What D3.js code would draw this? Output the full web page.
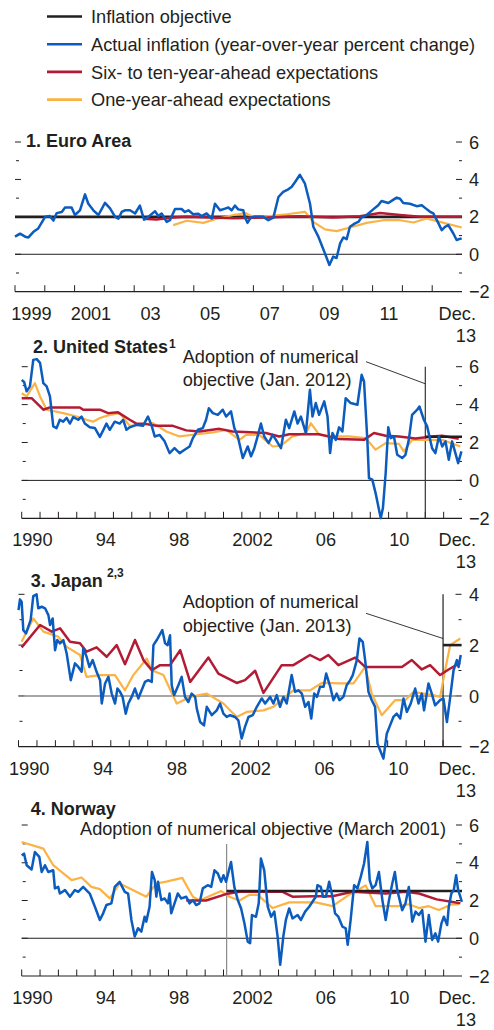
<!DOCTYPE html>
<html>
<head>
<meta charset="utf-8">
<script src="https://cdn.jsdelivr.net/npm/d3@7"></script>
<style>
  body { margin: 0; background: #fff; }
  svg { display: block; font-family: "Liberation Sans", Arial, sans-serif; }
  text { fill: #231f20; }
</style>
</head>
<body>
<svg width="494" height="1030"></svg>
<script>
// ---- data: [year, percent] ----
const legendLabels = [
  "Inflation objective",
  "Actual inflation (year-over-year percent change)",
  "Six- to ten-year-ahead expectations",
  "One-year-ahead expectations"
];

const euroObjective = [[1999, 2], [2014, 2]];
const euroActual = [[1999.00,0.94],[1999.17,1.10],[1999.34,0.94],[1999.45,0.90],[1999.62,1.20],[1999.78,1.38],[2000.01,2.00],[2000.17,2.04],[2000.29,1.80],[2000.40,2.20],[2000.57,2.26],[2000.68,2.50],[2000.90,2.50],[2001.01,2.10],[2001.18,2.35],[2001.35,3.20],[2001.46,2.70],[2001.63,2.35],[2001.80,2.10],[2002.02,2.75],[2002.19,2.45],[2002.36,2.00],[2002.47,1.90],[2002.58,2.26],[2002.69,2.35],[2002.86,2.35],[2003.03,2.18],[2003.19,2.60],[2003.33,1.85],[2003.47,2.00],[2003.70,2.30],[2003.81,2.05],[2003.92,2.18],[2004.09,1.73],[2004.20,1.82],[2004.37,2.42],[2004.59,2.42],[2004.70,2.26],[2004.82,2.35],[2004.98,2.14],[2005.15,2.17],[2005.26,2.04],[2005.43,2.18],[2005.60,1.90],[2005.71,2.70],[2005.88,2.35],[2006.05,2.44],[2006.16,2.50],[2006.27,2.35],[2006.38,2.60],[2006.49,2.40],[2006.66,2.35],[2006.72,1.96],[2006.80,1.68],[2006.91,1.96],[2007.05,2.00],[2007.33,2.00],[2007.50,1.82],[2007.67,1.96],[2007.84,3.06],[2008.00,3.33],[2008.17,3.47],[2008.28,3.60],[2008.40,3.86],[2008.56,4.25],[2008.73,3.77],[2008.90,2.70],[2009.01,1.47],[2009.18,0.94],[2009.29,0.50],[2009.40,0.05],[2009.55,-0.57],[2009.68,-0.12],[2009.79,-0.20],[2009.91,0.58],[2010.02,0.90],[2010.13,0.81],[2010.24,1.47],[2010.41,1.65],[2010.52,1.73],[2010.63,1.96],[2010.80,2.10],[2011.02,2.40],[2011.19,2.62],[2011.30,2.85],[2011.53,2.74],[2011.70,2.92],[2011.81,3.03],[2011.92,2.97],[2012.03,2.74],[2012.25,2.70],[2012.48,2.57],[2012.65,2.62],[2012.76,2.48],[2012.93,2.27],[2013.04,2.18],[2013.21,1.65],[2013.32,1.29],[2013.43,1.47],[2013.54,1.56],[2013.71,1.11],[2013.82,0.76],[2013.88,0.80],[2013.99,0.85]];
const euroLongTerm = [[2003.31,1.90],[2003.75,1.86],[2004.31,1.96],[2004.76,2.00],[2006.33,1.93],[2007.45,1.96],[2008.56,2.03],[2009.68,1.96],[2010.58,2.03],[2011.25,2.20],[2011.92,2.10],[2012.59,2.00],[2013.99,2.00]];
const euroOneYear = [[2004.31,1.56],[2004.76,1.79],[2005.32,1.68],[2005.77,1.90],[2006.33,2.10],[2006.72,2.20],[2007.05,1.96],[2007.45,2.03],[2008.12,2.14],[2008.73,2.27],[2009.01,1.73],[2009.40,1.33],[2009.79,1.24],[2010.24,1.43],[2010.80,1.68],[2011.36,1.82],[2011.92,1.82],[2012.37,1.70],[2012.81,1.91],[2013.26,1.73],[2013.99,1.43]];

const usObjective = [[2012, 2.3], [2014, 2.3]];
const usActual = [[1990.00,5.30],[1990.13,5.20],[1990.27,4.70],[1990.45,4.96],[1990.63,6.36],[1990.82,6.40],[1991.00,6.20],[1991.18,5.13],[1991.36,4.96],[1991.54,4.43],[1991.72,2.85],[1991.90,2.76],[1992.08,3.20],[1992.26,3.10],[1992.45,3.30],[1992.63,3.00],[1992.81,3.34],[1993.08,3.20],[1993.26,3.37],[1993.44,3.00],[1993.71,2.80],[1993.99,2.76],[1994.26,2.30],[1994.44,2.64],[1994.62,3.00],[1994.80,2.67],[1995.07,3.10],[1995.34,3.00],[1995.53,3.20],[1995.71,2.67],[1995.89,2.80],[1996.25,2.93],[1996.61,2.88],[1996.88,3.37],[1997.07,2.93],[1997.25,2.32],[1997.52,2.40],[1997.79,2.06],[1998.06,1.44],[1998.33,1.70],[1998.61,1.44],[1998.88,1.62],[1999.15,1.79],[1999.33,2.23],[1999.60,2.67],[1999.87,2.76],[2000.05,3.20],[2000.20,3.81],[2000.42,3.55],[2000.69,3.46],[2000.96,3.73],[2001.14,3.37],[2001.41,3.64],[2001.59,2.76],[2001.78,2.32],[2002.05,1.18],[2002.32,1.79],[2002.50,1.27],[2002.68,1.70],[2002.86,2.32],[2003.04,3.00],[2003.22,2.32],[2003.46,1.97],[2003.68,2.40],[2003.86,2.14],[2004.13,1.70],[2004.40,3.20],[2004.58,2.76],[2004.86,3.64],[2005.04,3.00],[2005.22,3.37],[2005.49,2.50],[2005.71,4.78],[2005.85,3.37],[2006.03,4.08],[2006.21,3.46],[2006.49,4.17],[2006.67,3.37],[2006.81,1.44],[2006.94,2.50],[2007.12,2.14],[2007.30,2.80],[2007.48,2.58],[2007.66,4.34],[2007.93,4.08],[2008.30,3.99],[2008.53,5.57],[2008.66,5.22],[2008.84,2.14],[2008.93,0.12],[2009.11,0.04],[2009.29,-0.67],[2009.57,-1.99],[2009.69,-1.46],[2009.84,0.39],[2009.98,2.80],[2010.11,2.23],[2010.29,2.32],[2010.47,1.35],[2010.74,1.18],[2010.92,1.35],[2011.10,2.14],[2011.28,3.46],[2011.56,3.73],[2011.68,3.90],[2011.92,3.20],[2012.10,2.85],[2012.37,1.70],[2012.55,1.44],[2012.74,2.32],[2012.92,1.79],[2013.10,2.06],[2013.28,1.09],[2013.46,2.06],[2013.64,1.44],[2013.79,0.91],[2013.97,1.53]];
const usLongTerm = [[1990.00,4.34],[1990.54,4.34],[1991.18,3.73],[1991.54,3.85],[1993.17,3.85],[1993.35,3.73],[1994.26,3.73],[1994.71,3.55],[1995.25,3.59],[1995.89,3.20],[1996.25,3.00],[1996.79,2.97],[1997.34,2.88],[1998.24,2.88],[1998.97,2.64],[1999.69,2.58],[2000.78,2.72],[2001.50,2.58],[2003.31,2.50],[2004.04,2.32],[2004.58,2.44],[2006.21,2.44],[2006.94,2.27],[2007.30,2.18],[2008.66,2.14],[2009.20,2.50],[2009.84,2.36],[2010.56,2.32],[2011.47,2.21],[2012.37,2.32],[2012.92,2.36],[2013.82,2.20]];
const usOneYear = [[1990.00,4.60],[1990.27,4.43],[1990.72,5.13],[1991.00,4.43],[1991.36,3.73],[1992.26,3.55],[1992.99,3.37],[1993.53,3.20],[1993.89,3.10],[1994.26,3.29],[1994.80,3.46],[1995.34,3.55],[1995.89,2.88],[1996.43,2.93],[1997.16,3.02],[1997.88,2.58],[1998.61,2.32],[1999.33,2.41],[2000.42,2.53],[2001.14,2.67],[2001.87,2.14],[2002.23,2.40],[2002.95,2.40],[2003.68,1.79],[2004.13,1.83],[2004.76,2.32],[2005.49,2.50],[2005.76,3.02],[2006.21,2.41],[2006.94,2.32],[2007.84,2.32],[2008.75,2.23],[2009.29,1.62],[2009.84,1.97],[2010.56,1.93],[2010.83,1.53],[2011.28,2.14],[2012.19,2.14],[2012.92,2.14],[2013.91,1.79]];

const japanObjective = [[2013, 2], [2014, 2]];
const japanActual = [[1990.00,3.38],[1990.08,3.80],[1990.17,3.71],[1990.26,2.59],[1990.41,2.46],[1990.53,2.72],[1990.66,2.99],[1990.80,3.93],[1990.98,4.00],[1991.07,3.45],[1991.26,3.51],[1991.44,3.45],[1991.62,3.18],[1991.71,2.79],[1991.85,3.05],[1991.98,1.80],[1992.10,2.20],[1992.25,2.07],[1992.43,2.20],[1992.61,1.67],[1992.83,0.62],[1993.06,1.28],[1993.24,1.14],[1993.42,0.95],[1993.51,1.87],[1993.69,1.54],[1993.84,1.14],[1994.02,1.41],[1994.23,0.95],[1994.42,0.62],[1994.51,-0.30],[1994.69,0.49],[1994.87,0.75],[1995.05,0.09],[1995.23,-0.30],[1995.36,0.29],[1995.50,0.16],[1995.64,-0.04],[1995.81,-0.70],[1995.95,-0.30],[1996.13,-0.04],[1996.31,0.29],[1996.49,-0.10],[1996.67,0.22],[1996.85,0.55],[1997.03,0.62],[1997.22,0.55],[1997.31,2.00],[1997.49,2.20],[1997.67,2.43],[1997.79,2.59],[1997.94,2.07],[1998.08,2.00],[1998.21,2.39],[1998.30,0.42],[1998.43,0.03],[1998.66,0.42],[1998.84,0.75],[1999.02,-0.04],[1999.20,-0.24],[1999.38,0.09],[1999.57,-0.04],[1999.66,-0.50],[1999.84,-1.03],[2000.05,-1.16],[2000.20,-0.43],[2000.47,-0.76],[2000.74,-0.57],[2000.92,-0.30],[2001.10,-0.70],[2001.28,-0.83],[2001.46,-0.76],[2001.73,-0.83],[2001.91,-0.96],[2002.09,-1.68],[2002.27,-1.22],[2002.46,-0.83],[2002.69,-0.76],[2002.91,-0.43],[2003.18,-0.10],[2003.36,-0.30],[2003.63,-0.04],[2003.81,-0.30],[2003.99,0.03],[2004.17,-0.43],[2004.35,-0.04],[2004.53,-0.30],[2004.80,0.82],[2004.98,0.16],[2005.17,0.22],[2005.35,0.09],[2005.53,-0.43],[2005.71,-0.24],[2005.86,-0.89],[2006.02,0.09],[2006.17,-0.04],[2006.34,0.36],[2006.53,0.36],[2006.67,0.88],[2006.89,0.36],[2007.06,-0.17],[2007.24,0.09],[2007.39,-0.17],[2007.60,-0.04],[2007.78,0.42],[2007.97,0.62],[2008.11,0.82],[2008.33,1.41],[2008.47,2.26],[2008.65,2.13],[2008.78,1.41],[2008.96,0.16],[2009.14,-0.17],[2009.32,-0.43],[2009.45,-1.88],[2009.59,-2.14],[2009.77,-2.47],[2009.95,-1.49],[2010.13,-1.16],[2010.31,-0.83],[2010.49,-0.70],[2010.68,-0.89],[2010.86,-0.10],[2011.04,-0.63],[2011.25,-0.30],[2011.49,0.29],[2011.67,-0.30],[2011.85,0.09],[2011.97,-0.57],[2012.21,0.49],[2012.39,0.09],[2012.57,-0.37],[2012.84,-0.17],[2013.02,-0.10],[2013.21,-1.03],[2013.39,-0.04],[2013.57,1.01],[2013.75,1.41],[2013.84,1.14],[2013.96,1.61]];
const japanLongTerm = [[1990.17,1.91],[1991.17,2.79],[1991.80,2.53],[1992.25,2.66],[1992.79,2.13],[1993.33,2.07],[1993.69,1.74],[1994.23,1.91],[1994.78,1.54],[1995.32,2.00],[1995.77,1.25],[1996.31,2.20],[1996.77,1.41],[1997.22,1.01],[1997.67,1.21],[1998.21,1.21],[1998.76,1.80],[1999.30,0.55],[2000.29,1.51],[2000.83,0.88],[2001.82,0.51],[2002.27,0.62],[2002.82,0.99],[2003.27,0.12],[2004.26,1.21],[2004.89,1.21],[2005.79,1.61],[2006.34,1.41],[2006.79,1.61],[2007.33,1.21],[2008.24,1.51],[2008.78,1.14],[2010.77,1.14],[2011.31,1.41],[2011.85,1.04],[2012.30,1.21],[2012.84,0.82],[2013.30,1.04],[2013.93,1.30]];
const japanOneYear = [[1990.17,2.13],[1990.80,3.05],[1991.35,2.53],[1992.16,2.33],[1992.61,1.93],[1993.33,1.61],[1993.69,0.75],[1994.42,0.82],[1995.23,0.82],[1995.77,0.22],[1996.22,0.82],[1996.95,1.47],[1997.22,1.01],[1997.85,0.82],[1998.57,-0.30],[1999.30,-0.04],[2000.20,0.09],[2001.10,-0.30],[2001.82,-0.83],[2002.36,-0.63],[2003.27,-0.57],[2003.81,-0.43],[2004.89,0.22],[2005.79,0.22],[2006.43,0.51],[2007.42,0.49],[2008.15,0.49],[2008.78,1.14],[2009.14,0.09],[2009.68,-0.76],[2010.40,-0.17],[2010.95,-0.17],[2011.40,0.16],[2011.94,0.09],[2012.48,0.03],[2012.84,-0.04],[2013.11,1.01],[2013.39,2.00],[2013.93,2.26]];

const norwayObjective = [[2001.17, 2.5], [2014, 2.5]];
const norwayActual = [[1990.00,4.39],[1990.13,4.48],[1990.27,3.87],[1990.54,3.64],[1990.72,4.57],[1990.96,4.31],[1991.09,3.51],[1991.27,3.87],[1991.45,3.51],[1991.72,3.60],[1991.81,2.64],[1991.99,2.72],[1992.08,2.37],[1992.36,2.55],[1992.63,2.20],[1992.90,2.55],[1993.08,2.46],[1993.35,2.72],[1993.71,2.37],[1993.99,1.67],[1994.26,0.97],[1994.44,1.32],[1994.62,1.76],[1994.89,1.85],[1995.07,2.72],[1995.34,2.99],[1995.62,2.46],[1995.80,2.37],[1995.98,0.97],[1996.16,0.09],[1996.34,0.53],[1996.52,0.35],[1996.70,1.14],[1996.79,0.88],[1996.97,1.67],[1997.10,3.51],[1997.25,3.08],[1997.34,2.20],[1997.43,2.99],[1997.61,2.02],[1997.79,2.11],[1997.97,1.85],[1998.06,2.37],[1998.15,1.32],[1998.33,1.85],[1998.51,2.37],[1998.70,2.11],[1998.97,2.20],[1999.15,1.85],[1999.33,2.02],[1999.51,1.76],[1999.69,1.85],[1999.87,2.64],[2000.14,2.81],[2000.33,2.72],[2000.51,3.60],[2000.69,3.43],[2000.87,2.99],[2001.00,3.34],[2001.14,2.99],[2001.41,4.04],[2001.59,2.72],[2001.78,2.02],[2001.96,1.58],[2002.14,0.79],[2002.32,-0.18],[2002.45,-0.26],[2002.55,1.23],[2002.77,1.14],[2002.92,1.85],[2003.04,4.22],[2003.22,3.60],[2003.41,1.67],[2003.59,1.14],[2003.77,1.41],[2003.95,0.09],[2004.09,-1.41],[2004.26,0.09],[2004.40,0.97],[2004.58,1.58],[2004.76,1.05],[2005.04,1.23],[2005.22,0.97],[2005.45,1.41],[2005.67,1.67],[2005.85,1.93],[2006.03,2.20],[2006.12,2.81],[2006.30,2.72],[2006.43,2.20],[2006.58,2.20],[2006.76,2.99],[2006.94,2.20],[2007.08,1.32],[2007.26,1.14],[2007.48,0.62],[2007.66,0.53],[2007.77,-0.35],[2007.93,0.97],[2008.12,2.81],[2008.30,2.64],[2008.48,3.25],[2008.66,3.95],[2008.84,5.10],[2008.97,3.08],[2009.11,2.64],[2009.29,2.81],[2009.47,3.51],[2009.66,2.02],[2009.84,0.97],[2010.02,2.02],[2010.20,2.90],[2010.34,3.51],[2010.47,2.55],[2010.74,1.49],[2010.92,1.85],[2011.10,2.72],[2011.29,0.88],[2011.47,1.41],[2011.65,1.23],[2011.83,1.49],[2012.01,-0.18],[2012.19,1.23],[2012.37,-0.09],[2012.55,0.26],[2012.70,-0.18],[2012.88,0.79],[2013.01,1.14],[2013.19,0.70],[2013.28,1.67],[2013.42,2.37],[2013.55,2.55],[2013.68,3.34],[2013.79,2.55],[2013.91,2.20],[2013.99,1.93]];
const norwayLongTerm = [[1998.97,2.00],[2000.05,2.00],[2001.14,2.34],[2001.87,2.46],[2004.22,2.46],[2004.76,2.20],[2005.85,2.23],[2006.94,2.23],[2008.03,2.46],[2009.84,2.37],[2010.92,2.46],[2011.65,2.37],[2012.62,2.06],[2013.91,1.85]];
const norwayOneYear = [[1990.00,5.10],[1991.18,4.75],[1991.72,3.87],[1992.72,3.08],[1993.26,3.22],[1993.80,2.72],[1994.26,2.60],[1994.80,2.11],[1995.34,2.90],[1996.79,2.20],[1997.34,2.90],[1997.88,3.00],[1998.75,3.20],[1999.33,2.20],[1999.69,2.00],[2000.87,2.50],[2001.32,2.20],[2001.87,2.00],[2002.41,2.30],[2002.86,2.30],[2003.68,1.60],[2004.58,1.90],[2006.03,1.90],[2006.94,1.70],[2007.84,2.30],[2008.39,2.60],[2008.75,2.80],[2009.29,1.70],[2010.56,1.70],[2011.10,1.80],[2011.65,1.60],[2012.19,1.70],[2012.74,1.50],[2013.46,1.80],[2013.82,1.80]];

// ---- layout ----
const svg = d3.select("svg");
const colors = ["#231f20", "#0b5cbe", "#b31b35", "#fbb345"];
const fs = 18.2;

const legend = svg.append("g");
legendLabels.forEach((label, i) => {
  const ly = 16.5 + i * 27.7;
  legend.append("line")
    .attr("x1", 47).attr("x2", 82).attr("y1", ly).attr("y2", ly)
    .attr("stroke", colors[i]).attr("stroke-width", 2.6);
  legend.append("text")
    .attr("x", 91).attr("y", ly + 6.6)
    .attr("font-size", fs)
    .text(label);
});

const panels = [
  {
    title: "1. Euro Area", sup: "", titleX: 26, titleY: 147,
    x0: 15, x1: 462, xStart: 1999, top: 142, bottom: 291.7, yMin: -2, yMax: 6,
    yearLabels: [[1999, "1999"], [2001, "2001"], [2003, "03"], [2005, "05"], [2007, "07"], [2009, "09"], [2011, "11"]],
    objective: euroObjective, actual: euroActual, longTerm: euroLongTerm, oneYear: euroOneYear,
    redOverBlack: true, zeroColor: "#231f20"
  },
  {
    title: "2. United States", sup: "1", titleX: 33, titleY: 353, supX: 169, supY: 348,
    x0: 21.7, x1: 462, xStart: 1990, top: 366.7, bottom: 518.3, yMin: -2, yMax: 6,
    yearLabels: [[1990, "1990"], [1994, "94"], [1998, "98"], [2002, "2002"], [2006, "06"], [2010, "10"]],
    objective: usObjective, actual: usActual, longTerm: usLongTerm, oneYear: usOneYear,
    zeroColor: "#231f20",
    note: { lines: ["Adoption of numerical", "objective (Jan. 2012)"], x: 182.7, y: 363, date: 2012,
            vTop: 6, px: 366, py: 361.7, pv: 5.1, color: "#333" }
  },
  {
    title: "3. Japan", sup: "2,3", titleX: 30.7, titleY: 587, supX: 107, supY: 577,
    x0: 18.5, x1: 461.5, xStart: 1990, top: 594.3, bottom: 746.7, yMin: -2, yMax: 4,
    yearLabels: [[1990, "1990"], [1994, "94"], [1998, "98"], [2002, "2002"], [2006, "06"], [2010, "10"]],
    objective: japanObjective, actual: japanActual, longTerm: japanLongTerm, oneYear: japanOneYear,
    zeroColor: "#8a8a8a",
    note: { lines: ["Adoption of numerical", "objective (Jan. 2013)"], x: 182.7, y: 608.3, date: 2013,
            vTop: 4, px: 366, py: 613.3, pv: 2.26, color: "#231f20" }
  },
  {
    title: "4. Norway", sup: "", titleX: 30.7, titleY: 815,
    x0: 21.7, x1: 462, xStart: 1990, top: 825, bottom: 976, yMin: -2, yMax: 6,
    yearLabels: [[1990, "1990"], [1994, "94"], [1998, "98"], [2002, "2002"], [2006, "06"], [2010, "10"]],
    objective: norwayObjective, actual: norwayActual, longTerm: norwayLongTerm, oneYear: norwayOneYear,
    zeroColor: "#231f20",
    note: { lines: ["Adoption of numerical objective (March 2001)"], x: 80, y: 835, date: 2001.17,
            vTop: 5, color: "#8a8a8a" }
  }
];

panels.forEach(p => {
  const g = svg.append("g");
  const x = d3.scaleLinear().domain([p.xStart, 2014]).range([p.x0, p.x1]);
  const y = d3.scaleLinear().domain([p.yMin, p.yMax]).range([p.bottom, p.top]);
  const line = d3.line().x(d => x(d[0])).y(d => y(d[1]));

  // title
  g.append("text").attr("x", p.titleX).attr("y", p.titleY)
    .attr("font-size", 18).attr("font-weight", "bold").text(p.title);
  if (p.sup) {
    g.append("text").attr("x", p.supX).attr("y", p.supY)
      .attr("font-size", 12).attr("font-weight", "bold").text(p.sup);
  }

  // y ticks, left and right
  const yVals = d3.range(p.yMin, p.yMax + 1);
  yVals.forEach(v => {
    const major = v % 2 === 0;
    if (v !== p.yMin) {
      g.append("line").attr("x1", p.x0 + (major ? 0 : 1)).attr("x2", p.x0 + (major ? 6 : 4))
        .attr("y1", y(v)).attr("y2", y(v)).attr("stroke", "#231f20").attr("stroke-width", 1);
      g.append("line").attr("x1", p.x1 - (major ? 6 : 3)).attr("x2", p.x1)
        .attr("y1", y(v)).attr("y2", y(v)).attr("stroke", "#231f20").attr("stroke-width", 1);
    }
    if (major) {
      g.append("text").attr("x", 469).attr("y", y(v) + 6.6)
        .attr("font-size", fs)
        .text(v < 0 ? "\u2212" + Math.abs(v) : v);
    }
  });

  // zero line
  g.append("line").attr("x1", p.x0).attr("x2", p.x1).attr("y1", y(0)).attr("y2", y(0))
    .attr("stroke", p.zeroColor).attr("stroke-width", p.zeroColor === "#231f20" ? 1 : 1.5);

  // bottom axis
  g.append("line").attr("x1", p.x0).attr("x2", p.x1).attr("y1", p.bottom).attr("y2", p.bottom)
    .attr("stroke", "#231f20").attr("stroke-width", 1.2);
  d3.range(p.xStart, 2014).forEach(yr => {
    g.append("line").attr("x1", x(yr)).attr("x2", x(yr))
      .attr("y1", p.bottom).attr("y2", p.bottom - 6.5)
      .attr("stroke", "#231f20").attr("stroke-width", 1);
  });
  p.yearLabels.forEach(([yr, lab]) => {
    g.append("text").attr("x", x(yr + 0.5) + 1.5).attr("y", p.bottom + 28)
      .attr("font-size", fs).attr("text-anchor", "middle").text(lab);
  });
  g.append("text").attr("x", 476).attr("y", p.bottom + 28)
    .attr("font-size", fs).attr("text-anchor", "end").text("Dec.");
  g.append("text").attr("x", 476).attr("y", p.bottom + 50)
    .attr("font-size", fs).attr("text-anchor", "end").text("13");

  // annotation
  if (p.note) {
    const n = p.note;
    g.append("line").attr("x1", x(n.date)).attr("x2", x(n.date))
      .attr("y1", y(n.vTop)).attr("y2", p.bottom)
      .attr("stroke", n.color).attr("stroke-width", 1.2);
    n.lines.forEach((t, i) => {
      g.append("text").attr("x", n.x).attr("y", n.y + i * 23.3)
        .attr("font-size", fs).text(t);
    });
    if (n.px) {
      g.append("line").attr("x1", n.px).attr("y1", n.py)
        .attr("x2", x(n.date)).attr("y2", y(n.pv))
        .attr("stroke", "#231f20").attr("stroke-width", 0.9);
    }
  }

  const draw = (data, c, w) => g.append("path").datum(data)
    .attr("d", line).attr("fill", "none").attr("stroke", c)
    .attr("stroke-width", w).attr("stroke-linejoin", "round");

  if (p.redOverBlack) draw(p.objective, colors[0], 2.6);
  draw(p.oneYear, colors[3], 2.2);
  draw(p.longTerm, colors[2], 2.5);
  if (!p.redOverBlack) draw(p.objective, colors[0], 2.6);
  draw(p.actual, colors[1], 2.5);
});
</script>
</body>
</html>
